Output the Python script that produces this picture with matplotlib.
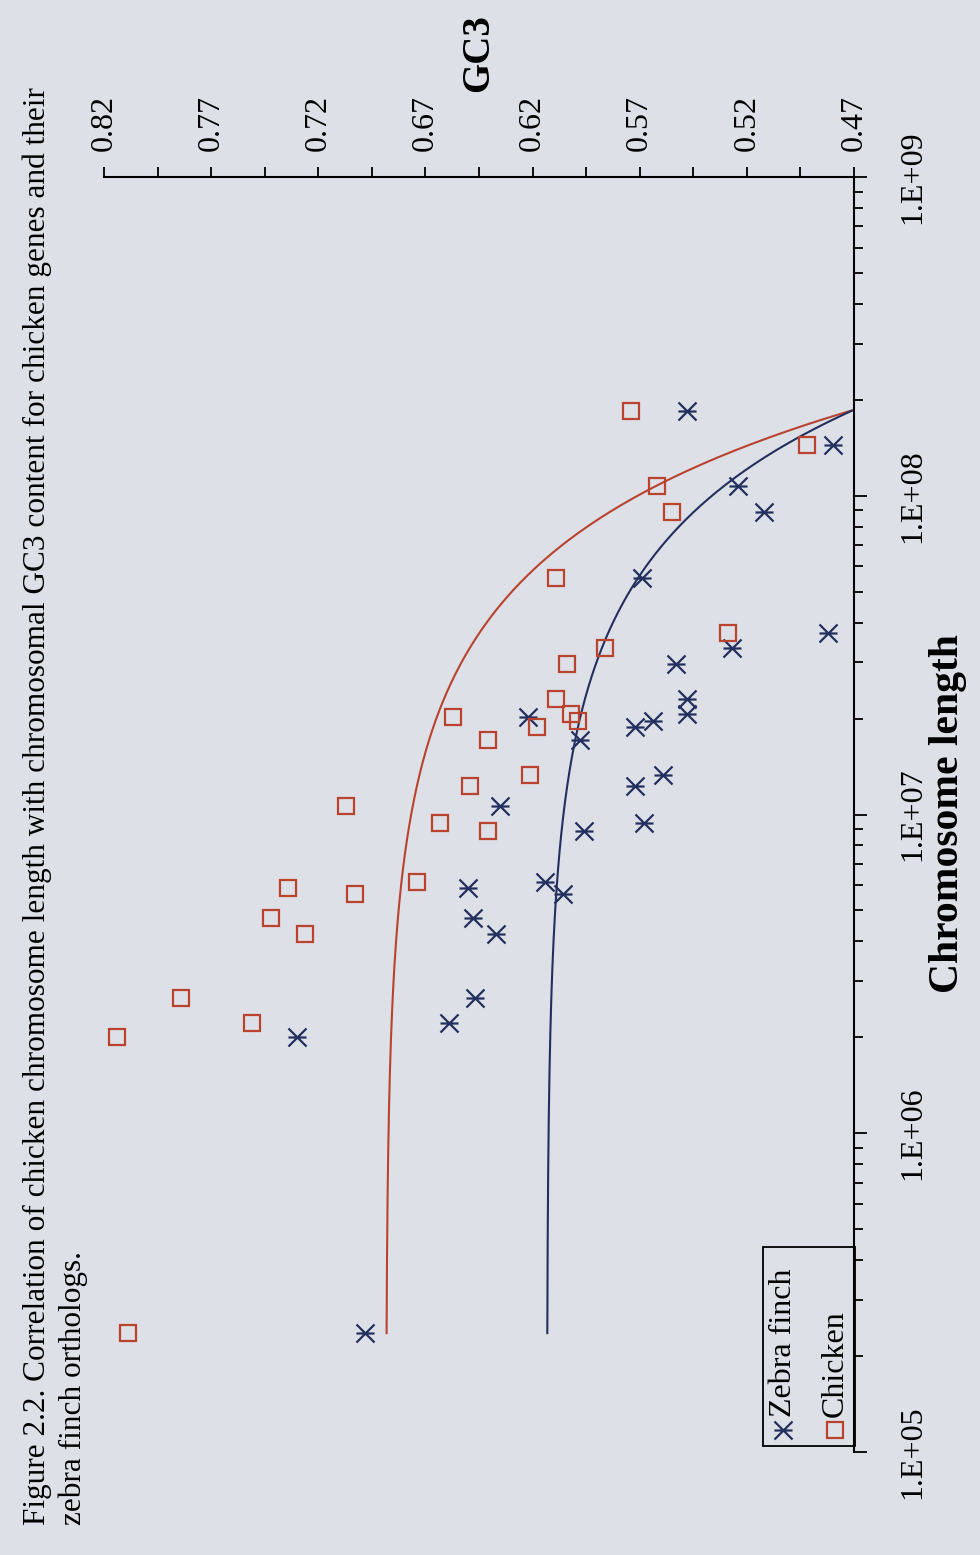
import numpy as np
import matplotlib
matplotlib.use("Agg")
import matplotlib.pyplot as plt
from matplotlib.path import Path
from matplotlib.patches import Rectangle
from matplotlib.ticker import NullFormatter, LogLocator

# ---------------- data ----------------
chrom_length = [2.36e5, 2.01e6, 2.66e6, 2.22e6, 4.72e6, 5.90e6, 4.23e6,
                1.06e7, 5.63e6, 6.14e6, 9.40e6, 2.02e7, 1.23e7, 1.71e7,
                8.85e6, 1.33e7, 1.88e7, 2.30e7, 2.96e7, 2.06e7, 1.97e7,
                5.54e7, 3.32e7, 1.85e8, 1.07e8, 8.89e7, 3.71e7, 1.44e8]
gc3_chicken = [0.809, 0.814, 0.784, 0.751, 0.742, 0.734, 0.726,
               0.707, 0.703, 0.674, 0.663, 0.657, 0.649, 0.641,
               0.641, 0.621, 0.618, 0.609, 0.604, 0.602, 0.599,
               0.609, 0.586, 0.574, 0.562, 0.555, 0.529, 0.492]
gc3_zebra = [0.698, 0.730, 0.647, 0.659, 0.648, 0.650, 0.637,
             0.635, 0.606, 0.614, 0.568, 0.622, 0.572, 0.598,
             0.596, 0.559, 0.572, 0.548, 0.553, 0.548, 0.564,
             0.569, 0.527, 0.548, 0.524, 0.512, 0.482, 0.480]
# linear trendlines (GC3 = intercept + slope * length)
trend_chicken = (0.6884, -1.174e-9)
trend_zebra = (0.6133, -7.70e-10)

gc3_ticks = [0.82, 0.77, 0.72, 0.67, 0.62, 0.57, 0.52, 0.47]
length_ticks = [1e5, 1e6, 1e7, 1e8, 1e9]
length_tick_labels = ["1.E+05", "1.E+06", "1.E+07", "1.E+08", "1.E+09"]
series_names = ["Zebra finch", "Chicken"]
caption_lines = ["Figure 2.2. Correlation of chicken chromosome length with chromosomal GC3 content for chicken genes and their",
                 "zebra finch orthologs."]

# ---------------- style ----------------
BG = "#dde0e6"
RED = "#b9432f"
BLUE = "#23305f"
SERIF = ["Liberation Serif", "DejaVu Serif"]
plt.rcParams["font.family"] = SERIF

W, H = 980, 1555
fig = plt.figure(figsize=(W / 100, H / 100), dpi=100, facecolor=BG)

# axes rectangle in pixels: left 104, right 854, top 177, bottom 1452
L, R, T, B = 104, 854, 177, 1452
ax = fig.add_axes([L / W, (H - B) / H, (R - L) / W, (B - T) / H])
ax.patch.set_visible(False)

star = Path([(-1, -1), (1, 1), (-1, 1), (1, -1), (-1, 0), (1, 0)],
            [Path.MOVETO, Path.LINETO, Path.MOVETO, Path.LINETO, Path.MOVETO, Path.LINETO])

# trendlines
lmin, lmax = min(chrom_length), max(chrom_length)
xs = np.geomspace(lmin, lmax, 400)
ax.plot(trend_chicken[0] + trend_chicken[1] * xs, xs, color=RED, lw=1.5, clip_on=False)
ax.plot(trend_zebra[0] + trend_zebra[1] * xs, xs, color=BLUE, lw=1.5, clip_on=False)

# points
ax.plot(gc3_zebra, chrom_length, linestyle="none", marker=star, markersize=13,
        markeredgewidth=1.6, markeredgecolor=BLUE, markerfacecolor="none", clip_on=False)
ax.plot(gc3_chicken, chrom_length, linestyle="none", marker="s", markersize=11,
        markeredgewidth=1.6, markeredgecolor=RED, markerfacecolor="none", clip_on=False)

ax.set_yscale("log")
ax.set_xlim(0.82, 0.47)
ax.set_ylim(1e5, 1e9)

for s in ["left", "bottom"]:
    ax.spines[s].set_visible(False)
for s in ["top", "right"]:
    ax.spines[s].set_linewidth(1.5)
    ax.spines[s].set_color("black")

# GC3 axis on top
ax.xaxis.tick_top()
ax.set_xticks(gc3_ticks, [f"{v:.2f}" for v in gc3_ticks], rotation=90,
              ha="center", va="bottom", fontsize=23)
ax.set_xticks([v - 0.025 for v in gc3_ticks[:-1]], minor=True)
ax.tick_params(axis="x", which="both", direction="out", length=7.5, width=1.3,
               pad=11, top=True, bottom=False)

# length axis on right
ax.yaxis.tick_right()
ax.set_yticks(length_ticks, length_tick_labels, rotation=90, ha="left",
              va="center", fontsize=23)
ax.yaxis.set_minor_locator(LogLocator(base=10, subs=range(2, 10)))
ax.yaxis.set_minor_formatter(NullFormatter())
ax.tick_params(axis="y", which="major", direction="out", length=9, width=1.3,
               pad=23, right=True, left=False)
ax.tick_params(axis="y", which="minor", direction="out", length=6.5, width=1.3,
               right=True, left=False)

# axis titles
fig.text(479 / W, 1 - 92 / H, "GC3", rotation=90, ha="center", va="bottom",
         fontsize=28, fontweight="bold")
fig.text(948 / W, 1 - 814 / H, "Chromosome length", rotation=90, ha="center",
         va="center", fontsize=30, fontweight="bold")

# caption
fig.text(37 / W, 1 - 1525 / H, caption_lines[0], rotation=90, ha="center",
         va="bottom", fontsize=22.5)
fig.text(73 / W, 1 - 1525 / H, caption_lines[1], rotation=90, ha="center",
         va="bottom", fontsize=22.5)

# legend (drawn by hand, rotated)
def px(xp, yp):
    return ((xp - L) / (R - L), (B - yp) / (B - T))

x0, y0 = px(763, 1446)
x1, y1 = px(855, 1247)
ax.add_patch(Rectangle((x0, y0), x1 - x0, y1 - y0, transform=ax.transAxes,
                       fill=False, edgecolor="black", lw=1.3, clip_on=False))
mx, my = px(783, 1430)
ax.plot([mx], [my], transform=ax.transAxes, marker=star, markersize=13,
        markeredgewidth=1.6, markeredgecolor=BLUE, markerfacecolor="none", clip_on=False)
tx, ty = px(783, 1417)
ax.text(tx, ty, series_names[0], transform=ax.transAxes, rotation=90,
        ha="center", va="bottom", fontsize=23)
mx, my = px(835, 1430)
ax.plot([mx], [my], transform=ax.transAxes, marker="s", markersize=11,
        markeredgewidth=1.6, markeredgecolor=RED, markerfacecolor="none", clip_on=False)
tx, ty = px(835, 1417)
ax.text(tx, ty, series_names[1], transform=ax.transAxes, rotation=90,
        ha="center", va="bottom", fontsize=23)

fig.savefig("out.png", dpi=100, facecolor=BG)
